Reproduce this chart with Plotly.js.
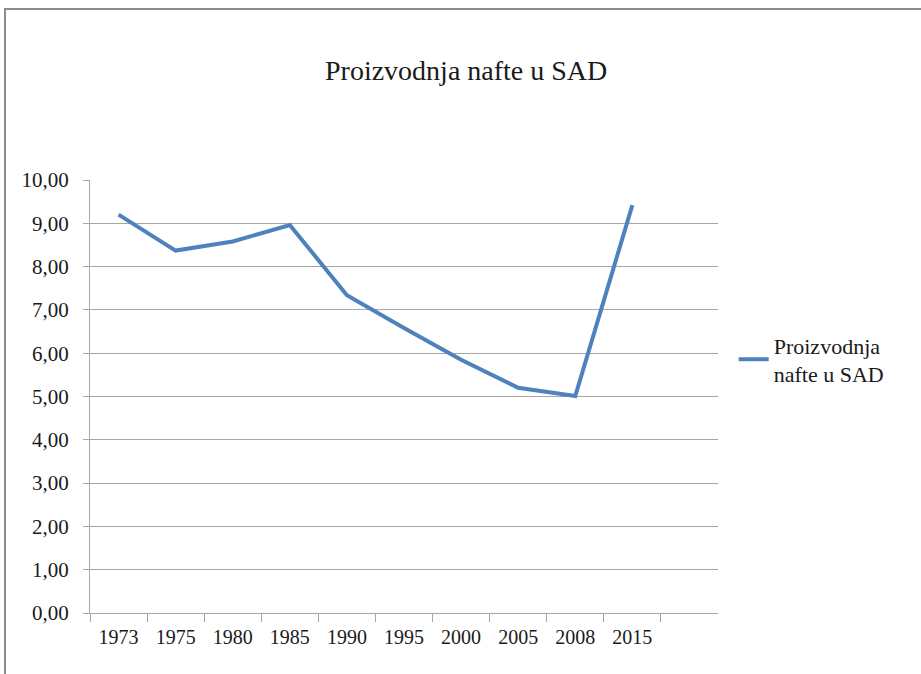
<!DOCTYPE html>
<html>
<head>
<meta charset="utf-8">
<script src="https://cdn.plot.ly/plotly-3.0.1.min.js"></script>
<style>
  html, body { margin: 0; padding: 0; background: #fff; overflow: hidden; }
  #frame { position: absolute; left: 4px; top: 8px; width: 2000px; height: 2000px;
           border-left: 2px solid #8c8c8c; border-top: 2px solid #8c8c8c; pointer-events: none; z-index: 5; }
  #chart { position: absolute; left: 0; top: 0; width: 921px; height: 674px; }
</style>
</head>
<body>
<div id="chart"></div>
<div id="frame"></div>
<script>
const chartTitle = "Proizvodnja nafte u SAD";
const seriesName = "Proizvodnja<br>nafte u SAD";
const years = ["1973", "1975", "1980", "1985", "1990", "1995", "2000", "2005", "2008", "2015"];
const production = [9.20, 8.37, 8.58, 8.96, 7.34, 6.58, 5.85, 5.20, 5.01, 9.42];
const yTicks = [0, 1, 2, 3, 4, 5, 6, 7, 8, 9, 10];

const serifFont = "Liberation Serif";

const trace = {
  type: "scatter",
  mode: "lines",
  x: years,
  y: production,
  name: seriesName,
  line: { color: "#4f81bd", width: 4 },
  hoverinfo: "skip"
};

const layout = {
  width: 921,
  height: 674,
  separators: ",.",
  paper_bgcolor: "#ffffff",
  plot_bgcolor: "#ffffff",
  margin: { l: 90, r: 203, t: 180, b: 61 },
  title: {
    text: chartTitle,
    font: { family: serifFont, size: 28, color: "#1a1a1a" },
    x: 0.599, xanchor: "center", xref: "paper",
    y: 0.896, yanchor: "middle", yref: "container"
  },
  showlegend: true,
  legend: {
    x: 1.025, xanchor: "left", y: 0.585, yanchor: "middle",
    font: { family: serifFont, size: 22, color: "#1a1a1a" },
    itemwidth: 30, bgcolor: "rgba(0,0,0,0)"
  },
  xaxis: {
    type: "category",
    range: [-0.5, 10.5],
    tickson: "boundaries",
    ticks: "outside", ticklen: 8, tickcolor: "#a6a6a6", tickwidth: 1,
    showline: true, linecolor: "#a6a6a6", linewidth: 1,
    showgrid: false, zeroline: false,
    ticklabelstandoff: 6,
    tickfont: { family: serifFont, size: 20, color: "#1a1a1a" },
    fixedrange: true
  },
  yaxis: {
    range: [0, 10],
    tickvals: yTicks,
    tickformat: ".2f",
    ticks: "outside", ticklen: 6, tickcolor: "#a6a6a6", tickwidth: 1,
    showline: true, linecolor: "#a6a6a6", linewidth: 1,
    showgrid: true, gridcolor: "#a6a6a6", gridwidth: 1,
    zeroline: false,
    ticklabelstandoff: 10,
    tickfont: { family: serifFont, size: 21, color: "#1a1a1a" },
    fixedrange: true
  }
};

Plotly.newPlot("chart", [trace], layout, { displayModeBar: false, staticPlot: true });
</script>
</body>
</html>
